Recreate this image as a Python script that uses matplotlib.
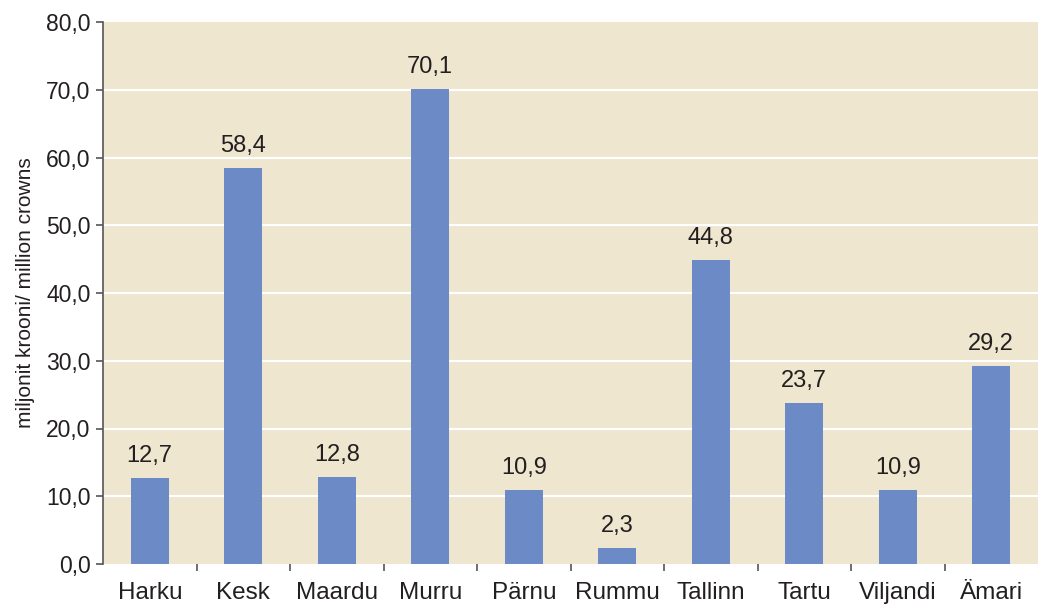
import matplotlib
matplotlib.use("Agg")
import matplotlib.pyplot as plt
import numpy as np

# Données
categories = ["Harku", "Kesk", "Maardu", "Murru", "Pärnu", "Rummu",
              "Tallinn", "Tartu", "Viljandi", "Ämari"]
values = [12.7, 58.4, 12.8, 70.1, 10.9, 2.3, 44.8, 23.7, 10.9, 29.2]
y_ticks = [0, 10, 20, 30, 40, 50, 60, 70, 80]

text_color = "#231F20"
plt.rcParams["font.family"] = ["Liberation Sans", "DejaVu Sans"]

fig = plt.figure(figsize=(10.38, 6.08), dpi=100)
ax = fig.add_axes([103 / 1038, 44 / 608, 935 / 1038, 542 / 608])
ax.set_facecolor("#EFE6CF")

x = np.arange(len(categories))
bars = ax.bar(x, values, width=0.41, color="#6B8AC6", zorder=3)

# Valeurs au-dessus des barres
for xi, v in zip(x, values):
    ax.annotate(f"{v:.1f}".replace(".", ","), (xi, v),
                textcoords="offset points", xytext=(0, 8),
                ha="center", va="bottom", fontsize=17, color=text_color)

ax.set_xlim(-0.5, len(categories) - 0.5)
ax.set_ylim(0, 80)
ax.set_yticks(y_ticks)
ax.set_yticklabels([f"{t:.1f}".replace(".", ",") for t in y_ticks],
                   fontsize=16.5, color=text_color)
for t in y_ticks[1:-1]:
    ax.axhline(t, color="white", linewidth=1.5, zorder=1)

ax.set_xticks(x)
ax.set_xticklabels(categories, fontsize=17.5, color=text_color)
ax.tick_params(axis="x", length=0, pad=13)
# petits traits entre les catégories
ax.set_xticks(np.arange(0.5, len(categories) - 1), minor=True)
ax.tick_params(axis="x", which="minor", length=5, width=1.2, color="#555555")
ax.tick_params(axis="y", length=5, width=1.2, color="#555555", pad=4)

for s in ["top", "right", "bottom"]:
    ax.spines[s].set_visible(False)
ax.spines["left"].set_color("#555555")
ax.spines["left"].set_linewidth(1.2)

ax.set_ylabel("miljonit krooni/ million crowns", fontsize=15,
              color=text_color, labelpad=8)

fig.savefig("out.png", dpi=100)
